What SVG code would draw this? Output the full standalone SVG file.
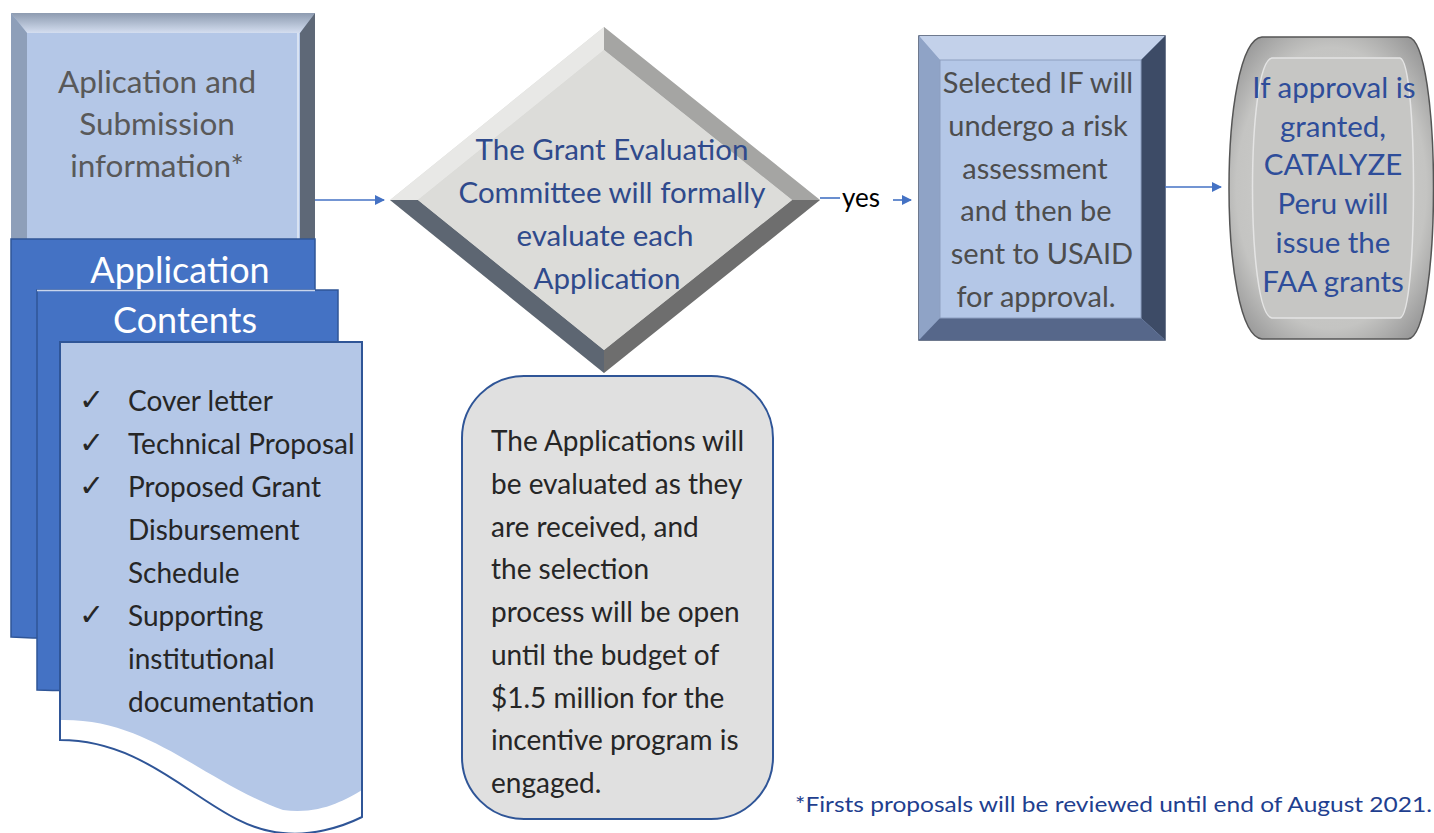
<svg xmlns="http://www.w3.org/2000/svg" width="1434" height="833" viewBox="0 0 1434 833">
<style>
.gill{font-family:Lato,"Open Sans","Liberation Sans",sans-serif;}
.cal{font-family:Lato,"Liberation Sans",sans-serif;}
.conn{stroke:#4472c4;stroke-width:1.6;fill:none;}
</style>
<defs>
<marker id="ah" viewBox="0 0 10 10" refX="9" refY="5" markerWidth="10" markerHeight="10" markerUnits="userSpaceOnUse" orient="auto">
<path d="M0,0 L10,5 L0,10 Z" fill="#4472c4"/>
</marker>
<radialGradient id="barrel" cx="0.5" cy="0.5" r="0.62">
<stop offset="0" stop-color="#d4d4d2"/>
<stop offset="0.75" stop-color="#c4c4c2"/>
<stop offset="1" stop-color="#9a9a9a"/>
</radialGradient>
<linearGradient id="topbev" x1="0" y1="0" x2="0" y2="1">
<stop offset="0" stop-color="#8d9bb0"/>
<stop offset="1" stop-color="#d4def0"/>
</linearGradient>
</defs>
<rect width="1434" height="833" fill="#ffffff"/>

<!-- Application and Submission information -->
<g id="node-submission">
<rect x="11" y="13" width="304" height="228" fill="#b4c7e7"/>
<polygon points="11,13 315,13 300,33 27,33" fill="url(#topbev)"/>
<polygon points="11,13 27,33 27,240 11,240" fill="#8e9fb9"/>
<polygon points="315,13 300,33 300,240 315,240" fill="#5e6877"/>
<rect x="27" y="33" width="273" height="207" fill="#b4c7e7"/>
<line x1="298" y1="33" x2="298" y2="240" stroke="#d8e2f2" stroke-width="2"/>
<g class="gill" fill="#595959" font-size="31.5" text-anchor="middle">
<text x="157" y="93">Aplication and</text>
<text x="157" y="135">Submission</text>
<text x="157" y="177">information*</text>
</g>
</g>

<!-- Application Contents stack -->
<g id="node-contents">
<path d="M11,239 H315 V600 C200,640 60,640 11,637 Z" fill="#4472c4" stroke="#2f5597" stroke-width="1.5"/>
<path d="M37,290 H338 V650 C220,690 90,692 37,690 Z" fill="#4472c4" stroke="#2f5597" stroke-width="1.5"/>
<line x1="37" y1="290.5" x2="315" y2="290.5" stroke="#c9d5ec" stroke-width="1.5"/>
<path d="M60,342 H362 V790 C345,800 320,815 283,810 C200,780 150,718 60,720 Z" fill="#b4c7e7"/>
<path d="M60,740 V342 H362 V817 C340,828 310,836 283,833 C210,828 160,740 60,740 Z" fill="none" stroke="#2f5597" stroke-width="2"/>
<g class="cal" fill="#ffffff" font-size="36" text-anchor="middle">
<text x="180" y="283">Application</text>
<text x="185" y="333">Contents</text>
</g>
<g fill="#262626">
<g font-family="'DejaVu Sans',sans-serif" font-size="30">
<text x="79" y="410">✓</text>
<text x="79" y="453">✓</text>
<text x="79" y="496">✓</text>
<text x="79" y="625">✓</text>
</g>
<g class="cal" font-size="28">
<text x="128" y="411">Cover letter</text>
<text x="128" y="454">Technical Proposal</text>
<text x="128" y="497">Proposed Grant</text>
<text x="128" y="540">Disbursement</text>
<text x="128" y="583">Schedule</text>
<text x="128" y="626">Supporting</text>
<text x="128" y="669">institutional</text>
<text x="128" y="712">documentation</text>
</g>
</g>
</g>

<!-- Decision diamond -->
<g id="node-evaluation">
<polygon points="604,27 820,200 604,373 390,200" fill="#d9d9d6"/>
<polygon points="604,27 390,200 418,200 604,50" fill="#e8e8e6"/>
<polygon points="604,27 820,200 792,200 604,50" fill="#a5a5a3"/>
<polygon points="820,200 604,373 604,350 792,200" fill="#6e6e6e"/>
<polygon points="390,200 604,373 604,350 418,200" fill="#5d6672"/>
<polygon points="604,50 792,200 604,350 418,200" fill="#dcdcd9"/>
<g class="gill" fill="#2f4a8c" font-size="29.5" text-anchor="middle">
<text x="612" y="160">The Grant Evaluation</text>
<text x="612" y="203">Committee will formally</text>
<text x="605" y="246">evaluate each</text>
<text x="607" y="289">Application</text>
</g>
</g>

<!-- Rolling evaluation note -->
<g id="node-note">
<rect x="462" y="376" width="311" height="443" rx="62" ry="62" fill="#e0e0e0" stroke="#2f5597" stroke-width="2"/>
<g class="cal" fill="#262626" font-size="28">
<text x="491" y="451">The Applications will</text>
<text x="491" y="494">be evaluated as they</text>
<text x="491" y="537">are received, and</text>
<text x="491" y="579">the selection</text>
<text x="491" y="622">process will be open</text>
<text x="491" y="665">until the budget of</text>
<text x="491" y="708">$1.5 million for the</text>
<text x="491" y="750">incentive program is</text>
<text x="491" y="793">engaged.</text>
</g>
</g>

<!-- Risk assessment box -->
<g id="node-risk">
<rect x="919" y="36" width="246" height="304" fill="#9fb3d6" stroke="#3f4e6a" stroke-width="1.5"/>
<polygon points="919,36 1165,36 1141,60 940,60" fill="#c3d1ea"/>
<polygon points="919,36 940,60 940,318 919,340" fill="#8fa3c6"/>
<polygon points="1165,36 1141,60 1141,318 1165,340" fill="#3d4b66"/>
<polygon points="919,340 940,318 1141,318 1165,340" fill="#56678a"/>
<rect x="940" y="60" width="201" height="258" fill="#b4c7e7" stroke="#8d9fc0" stroke-width="1"/>
<g class="gill" fill="#4d4d4d" font-size="29" text-anchor="middle">
<text x="1038" y="93">Selected IF will</text>
<text x="1038" y="136">undergo a risk</text>
<text x="1035" y="179">assessment</text>
<text x="1036" y="221">and then be</text>
<text x="1042" y="264">sent to USAID</text>
<text x="1036" y="307">for approval.</text>
</g>
</g>

<!-- Grant issuance -->
<g id="node-issue">
<path d="M1262,37 H1408 C1442,40 1442,335 1408,339 H1262 C1218,335 1218,41 1262,37 Z" fill="url(#barrel)" stroke="#555555" stroke-width="1.5"/>
<path d="M1272,58 H1400 C1418,62 1418,314 1400,318 H1272 C1246,314 1246,62 1272,58 Z" fill="#c6c6c4" stroke="#e4e4e4" stroke-width="1.5"/>
<g class="gill" fill="#2e4d9a" font-size="29.5" text-anchor="middle">
<text x="1334" y="98">If approval is</text>
<text x="1333" y="137">granted,</text>
<text x="1333" y="175">CATALYZE</text>
<text x="1333" y="214">Peru will</text>
<text x="1333" y="253">issue the</text>
<text x="1333" y="292">FAA grants</text>
</g>
</g>

<!-- Connectors -->
<g id="connectors">
<line class="conn" x1="315" y1="200" x2="384" y2="200" marker-end="url(#ah)"/>
<line class="conn" x1="820" y1="198" x2="840" y2="198"/>
<text class="cal" x="842" y="207" font-size="26" fill="#000000">yes</text>
<line class="conn" x1="893" y1="200" x2="911" y2="200" marker-end="url(#ah)"/>
<line class="conn" x1="1165" y1="187" x2="1221" y2="187" marker-end="url(#ah)"/>
</g>

<!-- Footnote -->
<g id="footnote" class="gill" font-size="22" fill="#1f3f8f">
<text x="795" y="812" textLength="637" lengthAdjust="spacingAndGlyphs">*Firsts proposals will be reviewed until end of August 2021.</text>
</g>
</svg>
